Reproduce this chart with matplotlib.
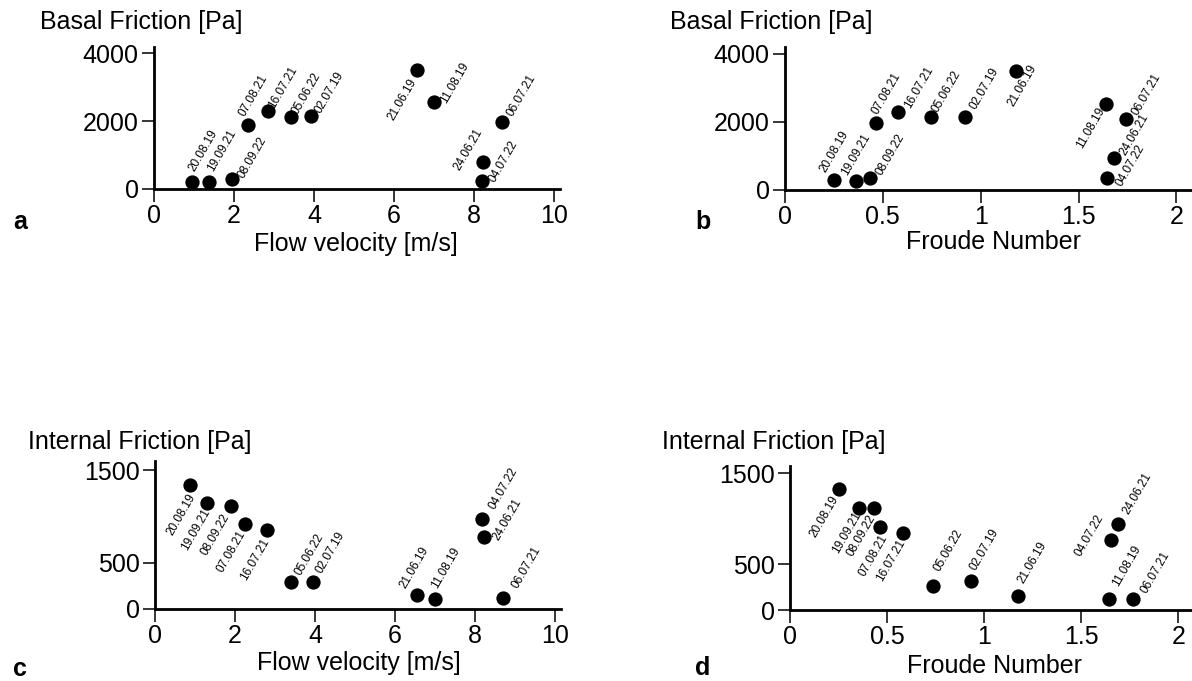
import matplotlib
matplotlib.use("Agg")
import matplotlib.pyplot as plt

#%% data
dates = ["20.08.19", "19.09.21", "08.09.22", "07.08.21", "16.07.21", "05.06.22",
         "02.07.19", "21.06.19", "11.08.19", "06.07.21", "24.06.21", "04.07.22"]

velocity_a = [0.95, 1.37, 1.95, 2.35, 2.85, 3.43, 3.93, 6.58, 6.99, 8.69, 8.23, 8.20]
basal_a = [194, 194, 294, 1871, 2282, 2118, 2135, 3500, 2547, 1979, 782, 235]

froude_b = [0.252, 0.363, 0.435, 0.464, 0.575, 0.747, 0.922, 1.180, 1.640, 1.743, 1.679, 1.645]
basal_b = [294, 265, 363, 1960, 2283, 2136, 2156, 3508, 2528, 2078, 932, 343]

velocity_c = [0.88, 1.30, 1.91, 2.24, 2.80, 3.41, 3.95, 6.55, 7.01, 8.69, 8.22, 8.17]
internal_c = [1338, 1150, 1118, 916, 855, 288, 296, 151, 112, 115, 775, 974]

froude_d = [0.250, 0.357, 0.432, 0.461, 0.583, 0.734, 0.934, 1.174, 1.643, 1.764, 1.690, 1.655]
internal_d = [1328, 1121, 1121, 913, 845, 258, 315, 150, 125, 118, 945, 763]

vel_ticks = [0, 2, 4, 6, 8, 10]
fr_ticks = [0, 0.5, 1, 1.5, 2]
fr_ticklabels = ["0", "0.5", "1", "1.5", "2"]
basal_ticks = [0, 2000, 4000]
internal_ticks = [0, 500, 1500]

#%% label placement: pixel offset from the dot, L = text starts there, R = text ends there
off_a = [(0, 12, "L"), (1.5, 12, "L"), (9, 2, "L"), (-6, 10, "L"), (3, 4, "L"), (4, 4, "L"),
         (6.5, 4, "L"), (-3, -10, "R"), (10, 0, "L"), (8.5, 6, "L"), (-26, -7, "L"), (10, 0, "L")]
off_b = [(-11.75, 8.7, "L"), (-11.75, 6.3, "L"), (9, 3, "L"), (-0.75, 9.7, "L"), (10, 4.3, "L"),
         (4, 6, "L"), (7, 7.7, "L"), (-4.75, -35, "L"), (-4, -4.7, "R"), (9.25, 4.7, "L"),
         (9, 3.7, "L"), (12, -7.3, "L")]
off_c = [(2.75, -10, "R"), (0.75, -7, "R"), (-4.25, -9, "R"), (-1.25, -7, "R"), (-0.25, -10, "R"),
         (6.25, 8, "L"), (6.25, 9, "L"), (-13.75, 8, "L"), (-0.75, 11, "L"), (12.25, 11, "L"),
         (12.25, -2, "L"), (10.25, 10, "L")]
off_d = [(-3.25, -8, "R"), (-1.25, -5, "R"), (-1.25, -8, "R"), (5.75, -9, "R"), (-0.25, -8, "R"),
         (4.25, 16, "L"), (1.25, 12, "L"), (3.25, 14, "L"), (6.25, 13, "L"), (11.25, 7, "L"),
         (7.25, 10, "L"), (-33.75, -15, "L")]

plt.rcParams['font.family'] = ['Liberation Sans', 'DejaVu Sans']

W, H = 1192, 681
fig = plt.figure(figsize=(W / 100, H / 100), dpi=100, facecolor='white')


def px_axes(left, right, bottom, top):
    # axes box given in image pixels
    return fig.add_axes([left / W, 1 - bottom / H, (right - left) / W, (bottom - top) / H])


def panel(ax, x, y, offs, xlim, ylim, xticks, yticks, xticklabels=None):
    ax.scatter(x, y, s=106, color='black', linewidths=0, zorder=3, clip_on=False)
    for xi, yi, d, (dx, dy, side) in zip(x, y, dates, offs):
        ha = 'left' if side == "L" else 'right'
        ax.annotate(d, (xi, yi), xytext=(dx, dy), textcoords='offset pixels',
                    rotation=60, rotation_mode='anchor', ha=ha, va='center',
                    fontsize=8.5, color='black')
    ax.set_xlim(*xlim)
    ax.set_ylim(*ylim)
    ax.set_xticks(xticks)
    if xticklabels is not None:
        ax.set_xticklabels(xticklabels)
    ax.set_yticks(yticks)
    for s in ['top', 'right']:
        ax.spines[s].set_visible(False)
    for s in ['left', 'bottom']:
        ax.spines[s].set_linewidth(2.0)
    ax.tick_params(direction='out', length=9, width=1.1, labelsize=18, pad=2)
    ax.patch.set_alpha(0)


ax_a = px_axes(154, 560, 189, 47)
panel(ax_a, velocity_a, basal_a, off_a, (0, 10.15), (0, 4180), vel_ticks, basal_ticks)

ax_b = px_axes(785, 1192, 190, 47)
panel(ax_b, froude_b, basal_b, off_b, (0, 2.08), (0, 4200), fr_ticks, basal_ticks, fr_ticklabels)

ax_c = px_axes(155, 561, 609, 461)
panel(ax_c, velocity_c, internal_c, off_c, (0, 10.15), (0, 1600), vel_ticks, internal_ticks)

ax_d = px_axes(790, 1192, 610, 466)
panel(ax_d, froude_d, internal_d, off_d, (0, 2.07), (0, 1580), fr_ticks, internal_ticks, fr_ticklabels)

#%% axis titles and panel letters
def ftext(x, y, s, **kw):
    fig.text(x / W, 1 - y / H, s, **kw)

ftext(40, 22, "Basal Friction [Pa]", fontsize=18, ha='left', va='center')
ftext(670, 22, "Basal Friction [Pa]", fontsize=18, ha='left', va='center')
ftext(28, 442, "Internal Friction [Pa]", fontsize=18, ha='left', va='center')
ftext(662, 442, "Internal Friction [Pa]", fontsize=18, ha='left', va='center')

ftext(356, 244, "Flow velocity [m/s]", fontsize=18, ha='center', va='center')
ftext(993, 242, "Froude Number", fontsize=18, ha='center', va='center')
ftext(359, 663, "Flow velocity [m/s]", fontsize=18, ha='center', va='center')
ftext(995, 666, "Froude Number", fontsize=18, ha='center', va='center')

for lx, ly, letter in [(13, 222, "a"), (695, 222, "b"), (13, 669, "c"), (695, 668, "d")]:
    ftext(lx, ly, letter, fontsize=18, fontweight='bold', ha='left', va='center')

fig.savefig("out.png", dpi=100)
